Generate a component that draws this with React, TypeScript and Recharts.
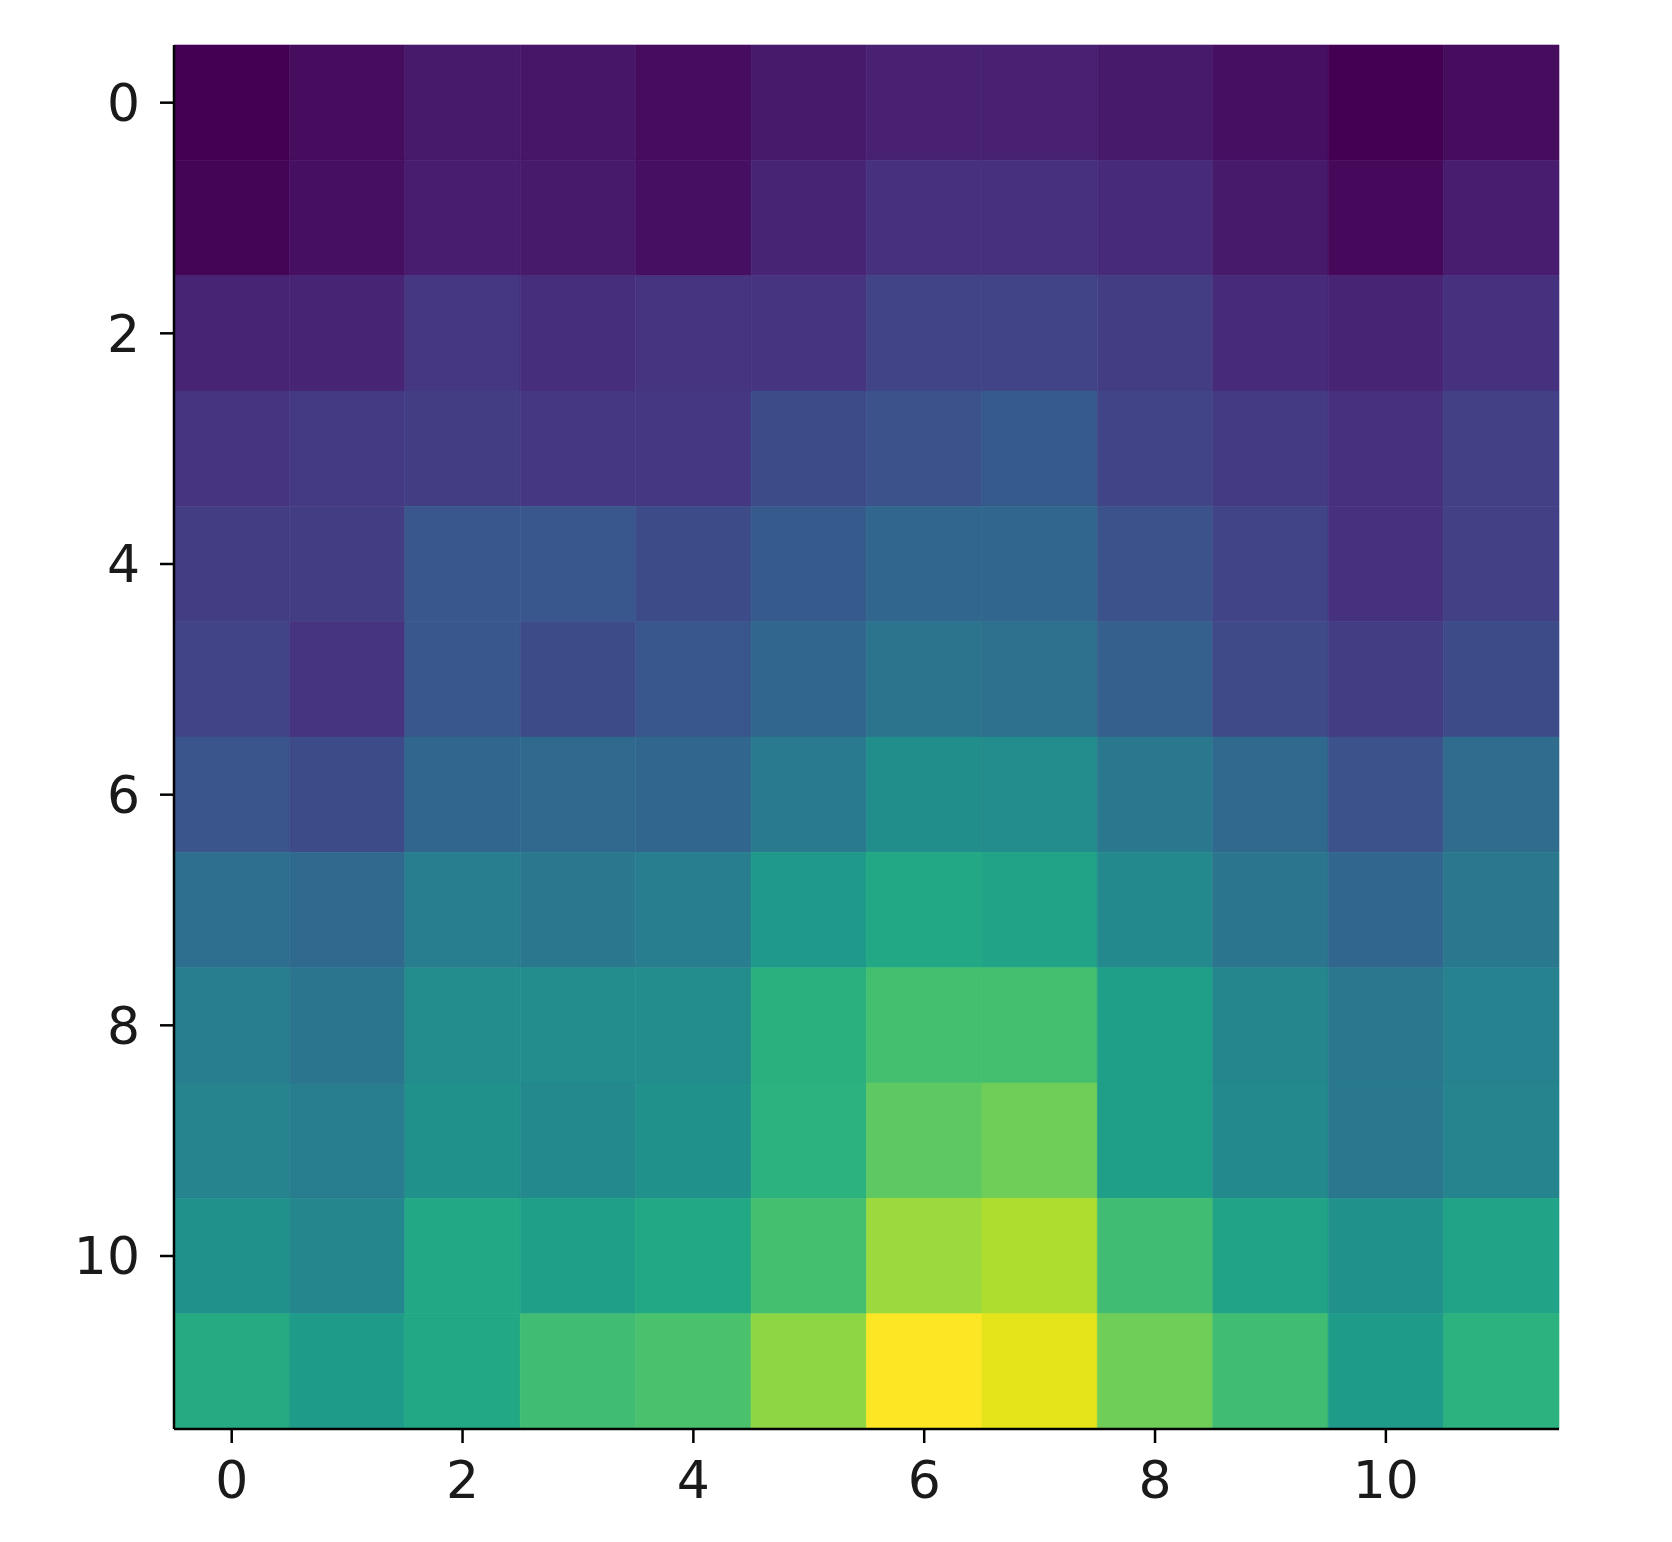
import React from "react";
import { ScatterChart, Scatter, XAxis, YAxis, ReferenceArea } from "recharts";

const rowIndex = [0, 1, 2, 3, 4, 5, 6, 7, 8, 9, 10, 11];
const colIndex = [0, 1, 2, 3, 4, 5, 6, 7, 8, 9, 10, 11];
const xTicks = [0, 2, 4, 6, 8, 10];
const yTicks = [0, 2, 4, 6, 8, 10];

const row0 = [0.0, 0.03, 0.07, 0.06, 0.03, 0.07, 0.09, 0.09, 0.07, 0.04, 0.0, 0.03];
const row1 = [0.01, 0.04, 0.08, 0.07, 0.04, 0.1, 0.14, 0.14, 0.12, 0.07, 0.02, 0.08];
const row2 = [0.1, 0.1, 0.16, 0.13, 0.15, 0.15, 0.2, 0.2, 0.18, 0.12, 0.1, 0.14];
const row3 = [0.15, 0.17, 0.18, 0.16, 0.16, 0.23, 0.25, 0.28, 0.2, 0.17, 0.14, 0.19];
const row4 = [0.18, 0.18, 0.27, 0.27, 0.23, 0.28, 0.33, 0.33, 0.25, 0.2, 0.14, 0.19];
const row5 = [0.2, 0.15, 0.27, 0.23, 0.27, 0.33, 0.38, 0.37, 0.3, 0.22, 0.18, 0.23];
const row6 = [0.26, 0.23, 0.33, 0.34, 0.33, 0.41, 0.49, 0.48, 0.4, 0.34, 0.25, 0.35];
const row7 = [0.36, 0.34, 0.42, 0.4, 0.42, 0.54, 0.6, 0.58, 0.47, 0.39, 0.33, 0.4];
const row8 = [0.42, 0.39, 0.48, 0.48, 0.48, 0.63, 0.7, 0.7, 0.56, 0.46, 0.4, 0.44];
const row9 = [0.45, 0.42, 0.5, 0.47, 0.5, 0.64, 0.75, 0.78, 0.56, 0.47, 0.4, 0.45];
const row10 = [0.5, 0.46, 0.6, 0.56, 0.6, 0.7, 0.85, 0.88, 0.69, 0.58, 0.5, 0.58];
const row11 = [0.61, 0.55, 0.6, 0.69, 0.71, 0.83, 1.0, 0.96, 0.78, 0.69, 0.55, 0.64];

const grid = [row0, row1, row2, row3, row4, row5, row6, row7, row8, row9, row10, row11];

const viridisStops = [
  [68, 1, 84], [71, 19, 101], [72, 36, 117], [70, 52, 128], [65, 68, 135],
  [59, 82, 139], [53, 95, 141], [47, 108, 142], [42, 120, 142], [37, 132, 142],
  [33, 145, 140], [30, 156, 137], [34, 168, 132], [47, 180, 124], [68, 191, 112],
  [94, 201, 98], [122, 209, 81], [155, 217, 60], [189, 223, 38], [223, 227, 24],
  [253, 231, 37],
];

function viridis(t: number): string {
  const v = Math.max(0, Math.min(1, t)) * (viridisStops.length - 1);
  const i = Math.min(Math.floor(v), viridisStops.length - 2);
  const f = v - i;
  const a = viridisStops[i];
  const b = viridisStops[i + 1];
  const c = a.map((x, k) => Math.round(x + (b[k] - x) * f));
  return `rgb(${c[0]},${c[1]},${c[2]})`;
}

const cells = rowIndex.flatMap((r) => colIndex.map((c) => ({ x: c, y: r, v: grid[r][c] })));

const tickStyle = { fill: "#1a1a1a", fontSize: 52, fontFamily: "DejaVu Sans" };

export default function App() {
  return (
    <div style={{ width: 1656, height: 1526 }}>
      <ScatterChart
        width={1656}
        height={1526}
        margin={{ top: 37, right: 105, bottom: 0, left: 0 }}
      >
        <XAxis
          type="number"
          dataKey="x"
          domain={[-0.5, 11.5]}
          ticks={xTicks}
          allowDataOverflow
          height={105}
          tickSize={14}
          tickMargin={18}
          tick={tickStyle}
          axisLine={{ stroke: "#000", strokeWidth: 2.5 }}
          tickLine={{ stroke: "#000", strokeWidth: 2.5 }}
        />
        <YAxis
          type="number"
          dataKey="y"
          domain={[-0.5, 11.5]}
          reversed
          ticks={yTicks}
          allowDataOverflow
          width={166}
          tickSize={14}
          tickMargin={20}
          tick={tickStyle}
          axisLine={{ stroke: "#000", strokeWidth: 2.5 }}
          tickLine={{ stroke: "#000", strokeWidth: 2.5 }}
        />
        {cells.map((d) => (
          <ReferenceArea
            key={`${d.x}-${d.y}`}
            x1={d.x - 0.5}
            x2={d.x + 0.5}
            y1={d.y - 0.5}
            y2={d.y + 0.5}
            fill={viridis(d.v)}
            fillOpacity={1}
            stroke={viridis(d.v)}
            strokeWidth={0.6}
            ifOverflow="visible"
          />
        ))}
        <Scatter data={cells} isAnimationActive={false} shape={() => null} />
      </ScatterChart>
    </div>
  );
}
